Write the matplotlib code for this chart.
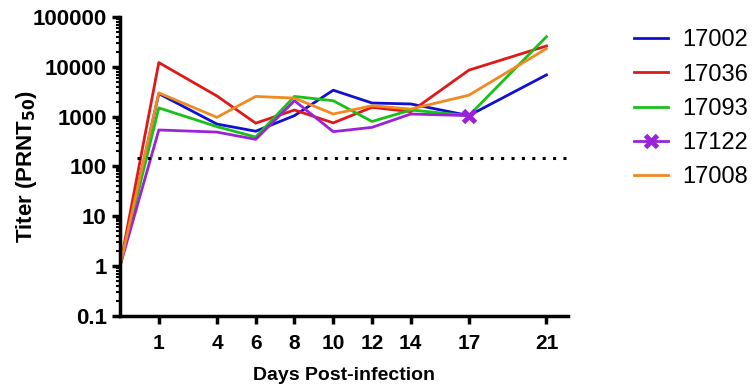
import numpy as np
import matplotlib.pyplot as plt
from matplotlib.ticker import LogLocator, NullFormatter

plt.rcParams['font.family'] = ['Liberation Sans', 'DejaVu Sans']

# days post-infection (first point is the pre-infection baseline)
days = [-1, 1, 4, 6, 8, 10, 12, 14, 17, 21]
days_17122 = [-1, 1, 4, 6, 8, 10, 12, 14, 17]

titer_17002 = [1, 2900, 710, 510, 1050, 3400, 1880, 1800, 1050, 6900]
titer_17036 = [1, 12200, 2600, 740, 1360, 750, 1540, 1260, 8600, 26300]
titer_17093 = [1, 1500, 630, 390, 2550, 2090, 800, 1360, 1050, 40400]
titer_17122 = [1, 540, 490, 350, 2090, 500, 610, 1130, 1050]
titer_17008 = [1, 3000, 970, 2550, 2360, 1130, 1660, 1420, 2700, 23200]

cutoff = 150
tick_days = [1, 4, 6, 8, 10, 12, 14, 17, 21]

fig = plt.figure(figsize=(7.55, 3.88), dpi=100)
ax = fig.add_axes([0.159, 0.186, 0.593, 0.770])

lw = 2.0
ax.plot(days, titer_17002, color='#1010d0', lw=lw, label='17002')
ax.plot(days, titer_17036, color='#e01818', lw=lw, label='17036')
ax.plot(days, titer_17093, color='#18c018', lw=lw, label='17093')
ax.plot(days_17122, titer_17122, color='#9a22d8', lw=lw, marker='x',
        markersize=9, markeredgewidth=3.5, markevery=[len(days_17122) - 1],
        label='17122')
ax.plot(days, titer_17008, color='#f08a20', lw=lw, label='17008')

ax.hlines(cutoff, -0.1, 22.1, colors='black', linestyles=(0, (1, 2.4)), lw=2.2)

ax.set_yscale('log')
ax.set_ylim(0.1, 100000)
ax.set_xlim(-1, 22.1)
ax.set_xticks(tick_days)
ax.set_xticklabels([str(d) for d in tick_days])
ax.set_yticks([0.1, 1, 10, 100, 1000, 10000, 100000])
ax.set_yticklabels(['0.1', '1', '10', '100', '1000', '10000', '100000'])
ax.yaxis.set_minor_locator(LogLocator(base=10, subs=np.arange(2, 10), numticks=20))
ax.yaxis.set_minor_formatter(NullFormatter())

for side in ['top', 'right']:
    ax.spines[side].set_visible(False)
for side in ['left', 'bottom']:
    ax.spines[side].set_linewidth(2.5)

ax.tick_params(axis='both', which='major', width=2.5, length=6, labelsize=16)
ax.tick_params(axis='x', which='major', pad=7, labelsize=15)
ax.tick_params(axis='y', which='minor', width=1.5, length=3)
for lab in ax.get_xticklabels() + ax.get_yticklabels():
    lab.set_fontweight('bold')

ax.set_xlabel('Days Post-infection', fontsize=14, fontweight='bold', labelpad=10)
ax.set_ylabel('Titer (PRNT$_{\\mathbf{50}}$)', fontsize=16, fontweight='bold')
ax.yaxis.set_label_coords(-0.18, 0.50)

ax.legend(loc='upper left', bbox_to_anchor=(1.10, 1.03), frameon=False,
          fontsize=17, handlelength=1.45, handletextpad=0.6, labelspacing=0.52)

fig.savefig('out.png', dpi=100)
